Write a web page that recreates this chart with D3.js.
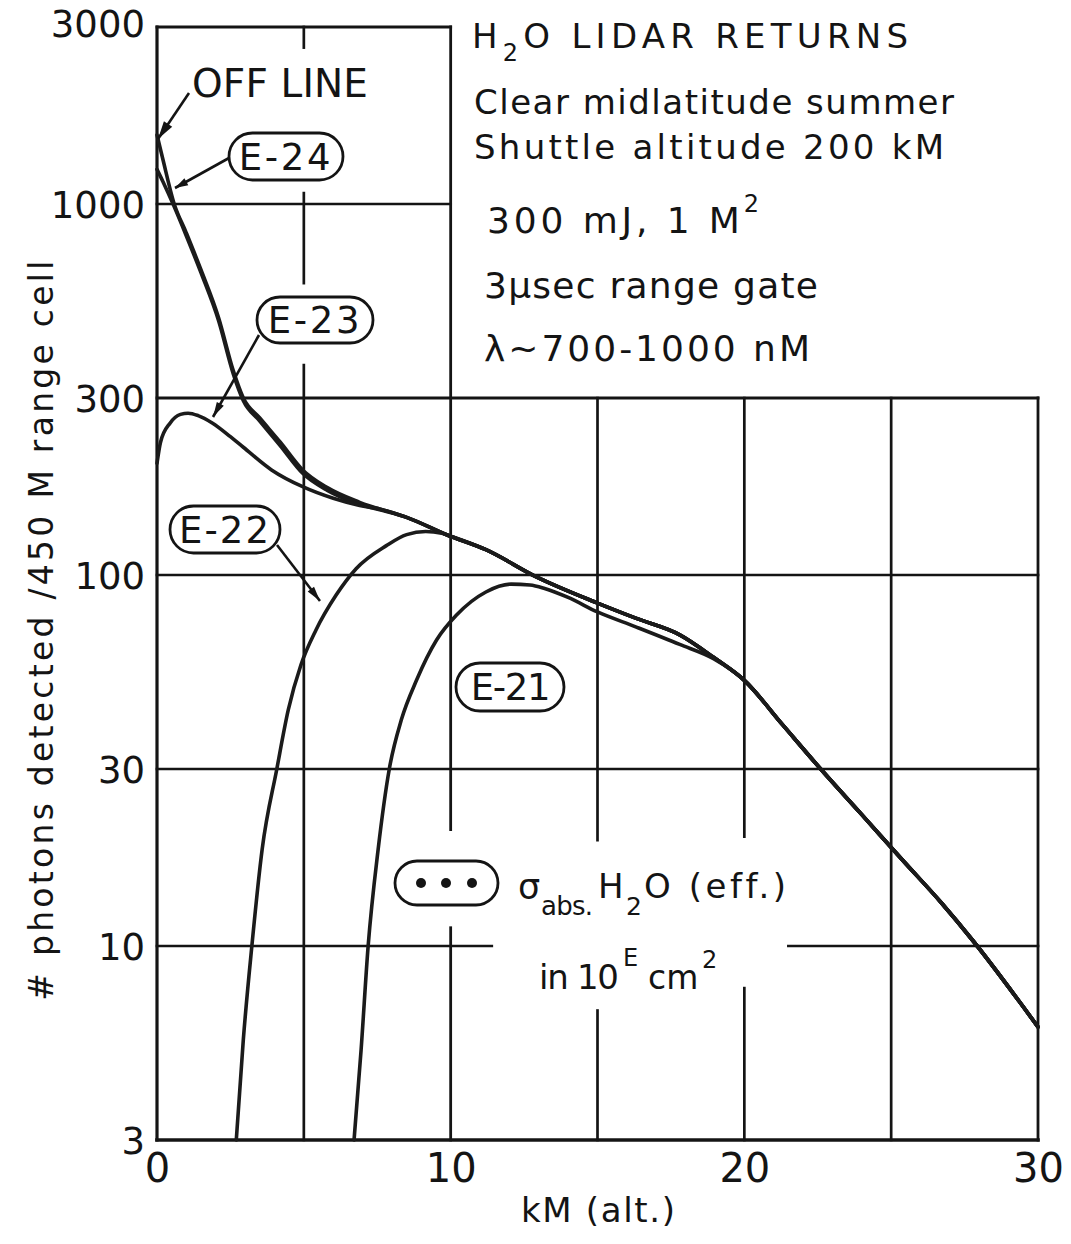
<!DOCTYPE html>
<html><head><meta charset="utf-8">
<script src="https://cdn.jsdelivr.net/npm/d3@7"></script>
<style>
body{margin:0;background:#fff}
svg{display:block}
text{font-family:"DejaVu Sans",sans-serif;fill:#141414}
</style>
</head><body>
<svg id="chart" width="1071" height="1244"></svg>
<script>
// ---------------- data ----------------
const xTicks = [0, 10, 20, 30];
const xTickLabels = ["0", "10", "20", "30"];
const yTicks = [3, 10, 30, 100, 300, 1000, 3000];
const yTickLabels = ["3", "10", "30", "100", "300", "1000", "3000"];

// OFF LINE return (the common curve all others join)
const offLineKm  = [0, 0.2, 0.57, 1.0, 1.5, 2.1, 2.6, 2.94, 3.5, 4.2, 4.96, 5.8, 6.9, 8.5, 9.9, 11.2, 12.9, 15.0, 16.3, 17.8, 18.95, 20.0, 21.3, 22.6, 24.0, 25.4, 26.7, 27.8, 30];
const offLineVal = [1535, 1320, 1010, 835, 664, 493, 355, 300, 265, 228, 192, 172, 157, 143, 128, 117, 99, 84, 76.5, 69, 60, 52, 39.5, 30, 22.6, 17, 13.1, 10.3, 6.05];

// E-24 (distinct part, then follows OFF LINE)
const e24Km  = [0, 0.2, 0.57, 1.0, 1.5, 2.1, 2.6, 2.94, 3.5, 4.2, 4.96, 5.8, 6.9, 8.0];
const e24Val = [1240, 1150, 990, 820, 652, 484, 348, 295, 260, 223, 188, 169, 155, 147];

// E-23
const e23Km  = [0, 0.12, 0.45, 0.8, 1.06, 1.4, 1.88, 2.5, 2.94, 3.9, 4.96, 6.0, 6.9, 7.6];
const e23Val = [200, 228, 257, 271, 273, 269, 257, 236, 221, 192, 173, 161, 154, 150.5];

// E-22
const e22Km  = [2.7, 2.94, 3.23, 3.58, 4.08, 4.47, 4.9, 5.41, 6.1, 6.78, 7.81, 8.5, 9.15, 9.7, 10.03];
const e22Val = [3, 5.6, 10, 18.2, 30, 43.3, 57.2, 71, 88.3, 104, 120, 128.5, 131, 129.5, 127];

// E-21
const e21Km  = [6.71, 6.95, 7.19, 7.53, 7.91, 8.32, 8.84, 9.52, 10.2, 11.2, 12.06, 12.7, 13.2, 14.0, 15.0, 16.3, 17.8, 18.95];
const e21Val = [3, 5.25, 10, 18.2, 30, 40.7, 52.1, 66.8, 78, 90, 94.5, 94, 92, 87, 79.5, 72.5, 65, 59.5];

// ---------------- drawing ----------------
const W = 1071, H = 1244;
const svg = d3.select("#chart");
svg.append("rect").attr("width", W).attr("height", H).attr("fill", "#fff");

const x = d3.scaleLinear().domain([0, 30]).range([157, 1038]);
const y = d3.scaleLog().domain([3, 3000]).range([1140, 27]);

const ink = "#141414";

// grid (segments in data units, gaps leave room for the labels)
const vGrid = [
  {km: 0,  segs: [[3, 3000]], w: 3.2},
  {km: 5,  segs: [[3, 368], [612, 1070], [2640, 3000]], w: 2.7},
  {km: 10, segs: [[3, 11.2], [20.6, 3000]], w: 2.8},
  {km: 15, segs: [[3, 6.7], [19.3, 300]], w: 2.7},
  {km: 20, segs: [[3, 7.7], [19.7, 300]], w: 2.7},
  {km: 25, segs: [[3, 300]], w: 2.7},
  {km: 30, segs: [[3, 300]], w: 2.8}
];
const hGrid = [
  {v: 3,    segs: [[0, 30]], w: 3.6},
  {v: 10,   segs: [[0, 11.4], [21.5, 30]], w: 2.7},
  {v: 30,   segs: [[0, 30]], w: 2.7},
  {v: 100,  segs: [[0, 30]], w: 2.7},
  {v: 300,  segs: [[0, 30]], w: 2.8},
  {v: 1000, segs: [[0, 10]], w: 2.7},
  {v: 3000, segs: [[0, 10]], w: 2.8}
];
const gGrid = svg.append("g").attr("stroke", ink).attr("stroke-linecap", "square");
vGrid.forEach(g => g.segs.forEach(s => {
  gGrid.append("line").attr("x1", x(g.km)).attr("x2", x(g.km))
    .attr("y1", y(s[0])).attr("y2", y(s[1])).attr("stroke-width", g.w);
}));
hGrid.forEach(g => g.segs.forEach(s => {
  gGrid.append("line").attr("y1", y(g.v)).attr("y2", y(g.v))
    .attr("x1", x(s[0])).attr("x2", x(s[1])).attr("stroke-width", g.w);
}));

// axes tick labels (d3 axes, domain/ticks hidden, labels styled)
const yAxis = d3.axisLeft(y).tickValues(yTicks).tickFormat((d, i) => yTickLabels[i]).tickSize(0).tickPadding(12);
const gy = svg.append("g").attr("transform", `translate(${x(0)},0)`).call(yAxis);
gy.select(".domain").remove();
gy.selectAll("text").attr("font-size", 37).attr("fill", ink)
  .attr("font-family", '"DejaVu Sans", sans-serif')
  .attr("dy", (d) => d === 3000 ? "0.26em" : "0.36em");

const xAxis = d3.axisBottom(x).tickValues(xTicks).tickFormat((d, i) => xTickLabels[i]).tickSize(0).tickPadding(14);
const gx = svg.append("g").attr("transform", `translate(0,${y(3)})`).call(xAxis);
gx.select(".domain").remove();
gx.selectAll("text").attr("font-size", 40).attr("fill", ink)
  .attr("font-family", '"DejaVu Sans", sans-serif');

// curves
const pts = (ks, vs) => ks.map((k, i) => ({km: k, v: vs[i]}));
const main = pts(offLineKm, offLineVal);
const joinMain = (ks, vs) => {
  const p = pts(ks, vs), last = ks[ks.length - 1];
  return p.concat(main.filter(d => d.km > last));
};
const line = d3.line().x(d => x(d.km)).y(d => y(d.v)).curve(d3.curveMonotoneX);
const series = [
  {name: "OFF LINE", data: main},
  {name: "E-24", data: joinMain(e24Km, e24Val)},
  {name: "E-23", data: joinMain(e23Km, e23Val)},
  {name: "E-22", data: joinMain(e22Km, e22Val)},
  {name: "E-21", data: joinMain(e21Km, e21Val)}
];
svg.append("g").selectAll("path").data(series).join("path")
  .attr("d", d => line(d.data))
  .attr("fill", "none").attr("stroke", "#1b1b1b").attr("stroke-width", 3.6)
  .attr("stroke-linejoin", "round").attr("stroke-linecap", "round");

// ---------------- annotations ----------------
function fitWidth(sel, w) {
  const n = sel.node();
  const len = n.getComputedTextLength();
  const chars = n.textContent.length;
  const ls = (w - len) / Math.max(1, chars - 1);
  sel.attr("letter-spacing", ls.toFixed(2));
}
function arrow(x1, y1, x2, y2, len, wid) {
  svg.append("line").attr("x1", x1).attr("y1", y1).attr("x2", x2).attr("y2", y2)
    .attr("stroke", ink).attr("stroke-width", 2.6);
  const a = Math.atan2(y2 - y1, x2 - x1);
  const bx = x2 - len * Math.cos(a), by = y2 - len * Math.sin(a);
  const px = -Math.sin(a) * wid / 2, py = Math.cos(a) * wid / 2;
  svg.append("path").attr("d", `M${x2},${y2}L${bx + px},${by + py}L${bx - px},${by - py}Z`)
    .attr("fill", ink);
}
function pill(x0, y0, w, h, label, tw) {
  svg.append("rect").attr("x", x0).attr("y", y0).attr("width", w).attr("height", h)
    .attr("rx", h / 2).attr("ry", h / 2).attr("fill", "#fff")
    .attr("stroke", ink).attr("stroke-width", 2.8);
  if (label) {
    const t = svg.append("text").attr("x", x0 + w / 2).attr("y", y0 + h / 2 + 13)
      .attr("text-anchor", "middle").attr("font-size", 37).text(label);
    fitWidth(t, tw);
  }
}

// leaders first so pills sit on top
arrow(189, 93, 158, 139, 18, 10);
arrow(229, 158, 175, 188, 13, 8);
arrow(259, 335, 213, 417, 15, 8);
arrow(277, 545, 320, 601, 15, 8);

const off = svg.append("text").attr("x", 192).attr("y", 97).attr("font-size", 39).text("OFF LINE");
fitWidth(off, 176);

pill(229, 133, 114, 47, "E-24", 92);
pill(257, 297, 116, 46, "E-23", 92);
pill(170, 506, 110, 47, "E-22", 90);
pill(456, 663, 108, 48, "E-21", 80);

// legend pill with dots
pill(395, 861, 103, 44, null);
[421, 446, 472].forEach(cx => svg.append("circle").attr("cx", cx).attr("cy", 883).attr("r", 5).attr("fill", ink));

// title block
function titleLine(xp, yp, fs, parts, w) {
  const t = svg.append("text").attr("x", xp).attr("y", yp).attr("font-size", fs);
  parts.forEach(p => {
    const s = t.append("tspan").text(p.t);
    if (p.fs) s.attr("font-size", p.fs);
    if (p.dy) s.attr("dy", p.dy);
  });
  fitWidth(t, w);
  return t;
}
titleLine(472, 48, 34, [{t: "H"}, {t: "2", fs: 24, dy: 13}, {t: "O LIDAR RETURNS", dy: -13}], 436);
titleLine(474, 114, 34, [{t: "Clear midlatitude summer"}], 480);
titleLine(474, 159, 34, [{t: "Shuttle altitude 200 kM"}], 470);
titleLine(487, 233, 36, [{t: "300 mJ, 1 M"}, {t: "2", fs: 24, dy: -21}], 272);
titleLine(484, 298, 36, [{t: "3\u03BCsec range gate"}], 334);
titleLine(484, 361, 36, [{t: "\u03BB~700-1000 nM"}], 326);

// sigma legend text
svg.append("text").attr("x", 518).attr("y", 899).attr("font-size", 35).text("\u03C3");
fitWidth(svg.append("text").attr("x", 541).attr("y", 915).attr("font-size", 26).text("abs."), 52);
svg.append("text").attr("x", 598).attr("y", 898).attr("font-size", 34).text("H");
svg.append("text").attr("x", 626).attr("y", 915).attr("font-size", 25).text("2");
fitWidth(svg.append("text").attr("x", 644).attr("y", 898).attr("font-size", 34).text("O (eff.)"), 144);

fitWidth(svg.append("text").attr("x", 539).attr("y", 989).attr("font-size", 34).text("in 10"), 80);
svg.append("text").attr("x", 623).attr("y", 966).attr("font-size", 24).text("E");
svg.append("text").attr("x", 648).attr("y", 989).attr("font-size", 33).text("cm");
svg.append("text").attr("x", 702).attr("y", 968).attr("font-size", 24).text("2");

// axis titles
fitWidth(svg.append("text").attr("x", 521).attr("y", 1222).attr("font-size", 34).text("kM (alt.)"), 154);
const yt = svg.append("text").attr("transform", "translate(53,629) rotate(-90)")
  .attr("text-anchor", "middle").attr("font-size", 33).text("# photons detected /450 M range cell");
fitWidth(yt, 740);
</script>
</body></html>
